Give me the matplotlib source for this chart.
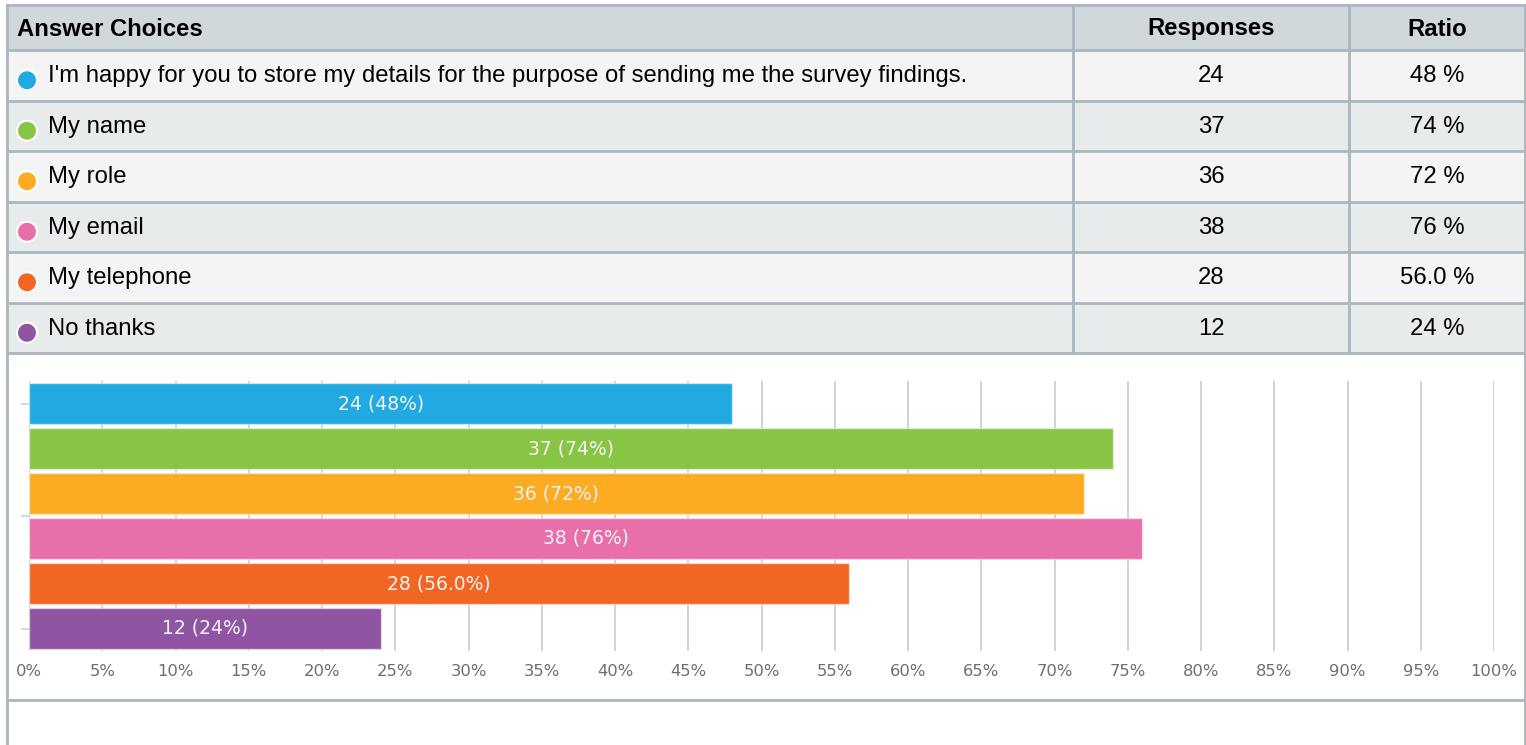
import numpy as np
import matplotlib
matplotlib.use("Agg")
import matplotlib.pyplot as plt
from matplotlib.patches import Rectangle, Circle

# data
choices = ["I'm happy for you to store my details for the purpose of sending me the survey findings.",
           "My name", "My role", "My email", "My telephone", "No thanks"]
responses = [24, 37, 36, 38, 28, 12]
pct = [48, 74, 72, 76, 56, 24]
ratio_txt = ["48 %", "74 %", "72 %", "76 %", "56.0 %", "24 %"]
bar_txt = ["24 (48%)", "37 (74%)", "36 (72%)", "38 (76%)", "28 (56.0%)", "12 (24%)"]
colors = ["#21a9e1", "#89c545", "#fdab22", "#e86fa9", "#f26624", "#8f55a2"]
xticks = list(range(0, 101, 5))

W, H = 1526, 745
fig = plt.figure(figsize=(W / 100, H / 100), dpi=100)
fig.patch.set_facecolor("white")

# table drawn in pixel coordinates
tb = fig.add_axes([0, 0, 1, 1])
tb.set_xlim(0, W)
tb.set_ylim(H, 0)
tb.axis("off")

border = "#a9b7bf"
x0, x1, x2, x3 = 7, 1073, 1349, 1525
row_h = 50.5
top = 50
tfont = ["Liberation Sans", "DejaVu Sans"]
fs = 17.2

tb.add_patch(Rectangle((x0, 5), x3 - x0, top - 5, fc="#d0d8dc", ec="none"))
tb.text(17, 29, "Answer Choices", fontsize=fs, fontweight="bold", family=tfont, va="center")
tb.text((x1 + x2) / 2, 29, "Responses", fontsize=fs, fontweight="bold", family=tfont, va="center", ha="center")
tb.text((x2 + x3) / 2, 29, "Ratio", fontsize=fs, fontweight="bold", family=tfont, va="center", ha="center")

for i, name in enumerate(choices):
    y = top + i * row_h
    bg = "#f4f4f4" if i % 2 == 0 else "#e8ebec"
    tb.add_patch(Rectangle((x0, y), x3 - x0, row_h, fc=bg, ec="none"))
    cy = y + row_h / 2
    tb.add_patch(Circle((27, cy + 5), 10, fc=colors[i], ec="white", lw=1.5))
    tb.text(48, cy + 1, name, fontsize=fs, family=tfont, va="center")
    tb.text((x1 + x2) / 2, cy + 1, str(responses[i]), fontsize=fs, family=tfont, va="center", ha="center")
    tb.text((x2 + x3) / 2, cy + 1, ratio_txt[i], fontsize=fs, family=tfont, va="center", ha="center")

bottom = top + len(choices) * row_h
# horizontal lines
for yy in [5] + [top + i * row_h for i in range(len(choices) + 1)] + [700]:
    tb.plot([x0, x3], [yy, yy], color=border, lw=2)
# vertical lines
tb.plot([x0, x0], [5, H], color=border, lw=2)
tb.plot([x3, x3], [5, H], color=border, lw=2)
tb.plot([x1, x1], [5, bottom], color=border, lw=2)
tb.plot([x2, x2], [5, bottom], color=border, lw=2)

# bar chart
ax = fig.add_axes([29 / W, 1 - 651 / H, (1494 - 29) / W, (651 - 381) / H])
ax.patch.set_alpha(0)
ypos = np.arange(len(pct))
ax.barh(ypos, pct, height=0.91, color=colors, edgecolor=(1, 1, 1, 0.5), lw=1, zorder=3)
for i in range(len(pct)):
    ax.text(pct[i] / 2, ypos[i], bar_txt[i], color="#f4f4f4", fontsize=13.5,
            family="DejaVu Sans", ha="center", va="center", zorder=4)
ax.set_xlim(0, 100)
ax.set_ylim(5.5, -0.5)
ax.set_xticks(xticks)
ax.set_xticklabels([f"{t}%" for t in xticks], fontsize=11.8, color="#6e6e6e")
ax.grid(axis="x", color="#cfcfcf", lw=1.3, zorder=0)
ax.tick_params(axis="x", length=0, pad=9)
ax.set_yticks([0, 2.5, 5])
ax.set_yticklabels([])
ax.tick_params(axis="y", length=6, color="#c5d3e0", width=1.2, pad=2)
for s in ax.spines.values():
    s.set_visible(False)

fig.savefig("out.png", dpi=100)
